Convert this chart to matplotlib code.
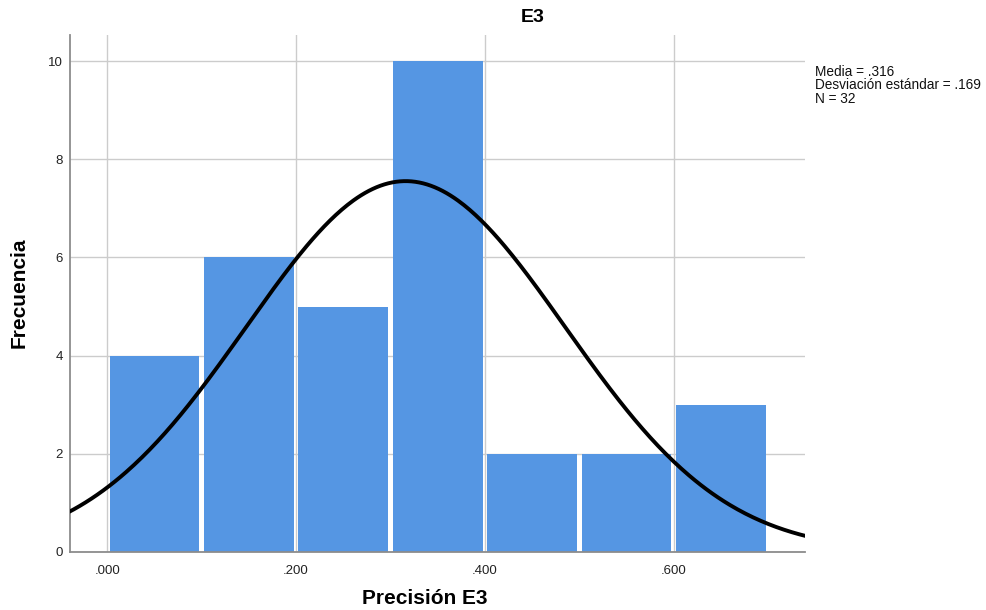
import numpy as np
import matplotlib
matplotlib.use("Agg")
import matplotlib.pyplot as plt

plt.rcParams['font.family'] = ['Liberation Sans', 'DejaVu Sans']

# Histogram bins (Precisión E3) and frequencies
bin_edges = [0.0, 0.1, 0.2, 0.3, 0.4, 0.5, 0.6, 0.7]
counts = [4, 6, 5, 10, 2, 2, 3]
media = 0.316
desv = 0.169
n = 32

x_ticks = [0.0, 0.2, 0.4, 0.6]
x_tick_labels = ['.000', '.200', '.400', '.600']
y_ticks = [0, 2, 4, 6, 8, 10]

W, H = 986, 610
fig = plt.figure(figsize=(W / 100, H / 100), dpi=100)
ax = fig.add_axes([70 / W, 1 - 552 / H, 735 / W, 517 / H])

# Bars with a small white gap between neighbours
gap = 0.0025
lefts = np.array(bin_edges[:-1]) + gap
widths = np.diff(bin_edges) - 2 * gap
ax.bar(lefts, counts, width=widths, align='edge',
       color='#5596e3', edgecolor='none', linewidth=0, zorder=2)

# Fitted normal curve scaled to the histogram
xs = np.linspace(-0.06, 0.76, 400)
bw = bin_edges[1] - bin_edges[0]
ys = n * bw / (desv * np.sqrt(2 * np.pi)) * np.exp(-0.5 * ((xs - media) / desv) ** 2)
ax.plot(xs, ys, color='black', linewidth=2.8, zorder=3)

ax.set_xlim(-0.0395, 0.739)
ax.set_ylim(0, 10.53)
ax.set_xticks(x_ticks)
ax.set_xticklabels(x_tick_labels)
ax.set_yticks(y_ticks)
ax.grid(True, color='#cccccc', linewidth=1.0, zorder=0)
ax.set_axisbelow(True)
ax.tick_params(axis='x', length=0, labelsize=9.5, colors='#222222', pad=9)
ax.tick_params(axis='y', length=0, labelsize=9.5, colors='#222222', pad=5)

for side in ['top', 'right']:
    ax.spines[side].set_visible(False)
for side in ['left', 'bottom']:
    ax.spines[side].set_color('#8c8c8c')
    ax.spines[side].set_linewidth(1.3)

fig.text(532.5 / W, 1 - 17 / H, 'E3', fontsize=14, fontweight='bold',
         ha='center', va='center')
fig.text(424.5 / W, 1 - 599 / H, 'Precisión E3', fontsize=15, fontweight='bold',
         ha='center', va='center')
fig.text(19.5 / W, 1 - 293 / H, 'Frecuencia', fontsize=15, fontweight='bold',
         ha='center', va='center', rotation=90)

fig.text(815 / W, 1 - 65 / H,
         f'Media = .{int(round(media * 1000)):03d}\n'
         f'Desviación estándar = .{int(round(desv * 1000)):03d}\n'
         f'N = {n}',
         fontsize=9.8, va='top', ha='left', linespacing=0.95, color='#111111')

fig.savefig('out.png', dpi=100)
